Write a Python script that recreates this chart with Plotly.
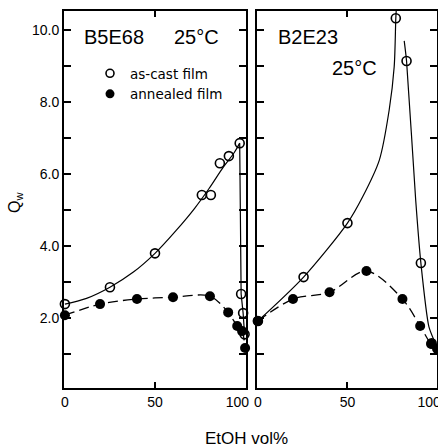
import plotly.graph_objects as go

# ---------------- data ----------------
# B5E68, 25 °C
b5_cast_x = [0, 25, 50, 76, 81, 86, 91, 97, 97.8, 98.9, 99.7]
b5_cast_y = [2.39, 2.86, 3.80, 5.42, 5.42, 6.30, 6.50, 6.86, 2.67, 2.14, 1.55]
b5_ann_x = [0, 19.5, 40, 60, 80.5, 90.6, 95.6, 98.3, 100]
b5_ann_y = [2.08, 2.39, 2.53, 2.58, 2.61, 2.16, 1.78, 1.64, 1.17]

# drawn guide curve for B5E68 as-cast
b5_curve_x = [0, 12, 25, 38, 50, 62, 72, 80, 88, 94, 97]
b5_curve_y = [2.39, 2.55, 2.86, 3.28, 3.80, 4.45, 5.05, 5.60, 6.20, 6.60, 6.86]
b5_drop_x = [97, 97.3, 97.8, 98.9, 99.7]
b5_drop_y = [6.86, 4.0, 2.67, 2.14, 1.55]

# B2E23, 25 °C
b2_cast_x = [0, 25.5, 50, 77, 83, 91, 97]
b2_cast_y = [1.92, 3.14, 4.64, 10.33, 9.14, 3.53, 1.30]
b2_ann_x = [0, 19.6, 40, 60.6, 80.7, 90.6, 96.7, 100]
b2_ann_y = [1.92, 2.53, 2.72, 3.31, 2.53, 1.78, 1.28, 1.15]

# drawn guide curve for B2E23 as-cast
b2_rise_x = [0, 25.5, 50, 58.5, 67.8, 73.3, 76.1, 77, 77.3]
b2_rise_y = [1.92, 3.14, 4.64, 5.37, 6.39, 7.78, 8.98, 10.33, 10.6]
b2_fall_x = [81.7, 83, 88.1, 91, 95.5, 100]
b2_fall_y = [9.7, 9.14, 5.28, 3.53, 1.76, 1.2]

NB = "\u00a0" * 4
y_ticks = [1, 2, 3, 4, 5, 6, 7, 8, 9, 10]
y_ticktext = ["", "2.0", "", "4.0", "", "6.0", "", "8.0", "", "10.0"]
x_ticks = [0, 50, 100]
x_ticktext = ["0", "50", "100" + NB]

FONT = "Liberation Sans"
BLACK = "black"

fig = go.Figure()

open_marker = dict(symbol="circle-open", size=9, color=BLACK, line=dict(width=1.6, color=BLACK))
fill_marker = dict(symbol="circle", size=10, color=BLACK)
dash_line = dict(color=BLACK, width=1.3, dash="10px,5px", shape="spline", smoothing=0.9)
solid_line = dict(color=BLACK, width=1.2)

# ---- left panel: B5E68 ----
fig.add_trace(go.Scatter(x=b5_curve_x, y=b5_curve_y, mode="lines",
                         line=dict(**solid_line, shape="spline", smoothing=1.0),
                         showlegend=False, xaxis="x", yaxis="y"))
fig.add_trace(go.Scatter(x=b5_drop_x, y=b5_drop_y, mode="lines",
                         line=solid_line, showlegend=False, xaxis="x", yaxis="y"))
fig.add_trace(go.Scatter(x=b5_ann_x, y=b5_ann_y, mode="lines", line=dash_line,
                         showlegend=False, xaxis="x", yaxis="y"))
fig.add_trace(go.Scatter(x=b5_cast_x, y=b5_cast_y, mode="markers", marker=open_marker,
                         cliponaxis=False, showlegend=False, xaxis="x", yaxis="y"))
fig.add_trace(go.Scatter(x=b5_ann_x, y=b5_ann_y, mode="markers", marker=fill_marker,
                         cliponaxis=False, showlegend=False, xaxis="x", yaxis="y"))

# ---- right panel: B2E23 ----
fig.add_trace(go.Scatter(x=b2_rise_x, y=b2_rise_y, mode="lines",
                         line=dict(**solid_line, shape="spline", smoothing=0.8),
                         showlegend=False, xaxis="x2", yaxis="y2"))
fig.add_trace(go.Scatter(x=b2_fall_x, y=b2_fall_y, mode="lines",
                         line=dict(**solid_line, shape="spline", smoothing=0.6),
                         showlegend=False, xaxis="x2", yaxis="y2"))
fig.add_trace(go.Scatter(x=b2_ann_x, y=b2_ann_y, mode="lines", line=dash_line,
                         showlegend=False, xaxis="x2", yaxis="y2"))
fig.add_trace(go.Scatter(x=b2_cast_x, y=b2_cast_y, mode="markers", marker=open_marker,
                         cliponaxis=False, showlegend=False, xaxis="x2", yaxis="y2"))
fig.add_trace(go.Scatter(x=b2_ann_x, y=b2_ann_y, mode="markers", marker=fill_marker,
                         cliponaxis=False, showlegend=False, xaxis="x2", yaxis="y2"))

# ---- legend entries ----
fig.add_trace(go.Scatter(x=[None], y=[None], mode="markers", name="as-cast film",
                         marker=dict(symbol="circle-open", size=8, color=BLACK, line=dict(width=1.6))))
fig.add_trace(go.Scatter(x=[None], y=[None], mode="markers", name="annealed film",
                         marker=dict(symbol="circle", size=9, color=BLACK)))

axis_common = dict(showline=True, linewidth=2, linecolor=BLACK, mirror="ticks",
                   ticks="inside", tickcolor=BLACK, tickwidth=1.5, showgrid=False,
                   zeroline=False, automargin=False,
                   tickfont=dict(family=FONT, size=14, color=BLACK))

W, H = 438, 447
L, R, T, B = 64, 1, 11, 59
pw = W - L - R
ph = H - T - B
left_end = (246 - L) / pw
right_start = (257 - L) / pw

fig.update_layout(
    width=W, height=H, autosize=False,
    margin=dict(l=L, r=R, t=T, b=B),
    paper_bgcolor="white", plot_bgcolor="white",
    font=dict(family=FONT, color=BLACK),
    xaxis=dict(domain=[0, left_end], range=[-0.5, 100.5], tickvals=x_ticks,
               ticktext=x_ticktext, ticklen=6, anchor="y", **axis_common),
    xaxis2=dict(domain=[right_start, 1], range=[-0.5, 100], tickvals=x_ticks,
                ticktext=x_ticktext, ticklen=6, anchor="y2", ticklabeloverflow="allow",
                **axis_common),
    yaxis=dict(domain=[0, 1], range=[0.06, 10.53], tickvals=y_ticks, ticktext=y_ticktext,
               ticklen=7, anchor="x", **axis_common),
    yaxis2=dict(domain=[0, 1], range=[0.06, 10.53], tickvals=y_ticks, showticklabels=False,
                ticklen=7, anchor="x2", **axis_common),
    legend=dict(x=(90 - L) / pw, y=1 - (58 - T) / ph, xanchor="left", yanchor="top",
                bgcolor="rgba(0,0,0,0)", font=dict(family="DejaVu Sans", size=13.5, color=BLACK),
                tracegroupgap=0, itemwidth=30),
    showlegend=True,
)

anns = [
    dict(text="B5E68", x=82, y=37, size=20, xanchor="left"),
    dict(text="25°C", x=172, y=37, size=20, xanchor="left"),
    dict(text="B2E23", x=276, y=37, size=20, xanchor="left"),
    dict(text="25°C", x=330, y=68, size=20, xanchor="left"),
    dict(text="EtOH vol%", x=246, y=438, size=17, xanchor="center"),
]
for a in anns:
    fig.add_annotation(text=a["text"], xref="paper", yref="paper",
                       x=(a["x"] - L) / pw, y=1 - (a["y"] - T) / ph,
                       xanchor=a["xanchor"], yanchor="middle", showarrow=False,
                       font=dict(family=FONT, size=a["size"], color=BLACK))
fig.add_annotation(text="Q<sub>w</sub>", xref="paper", yref="paper",
                   x=(15 - L) / pw, y=1 - (203 - T) / ph, textangle=-90,
                   xanchor="center", yanchor="middle", showarrow=False,
                   font=dict(family=FONT, size=16, color=BLACK))

fig.write_html(
    "out.html",
    config={"displayModeBar": False, "responsive": False},
    post_script=("document.body.style.margin='0';"
                 "document.body.style.overflow='hidden';"
                 "document.documentElement.style.overflow='hidden';"),
)
